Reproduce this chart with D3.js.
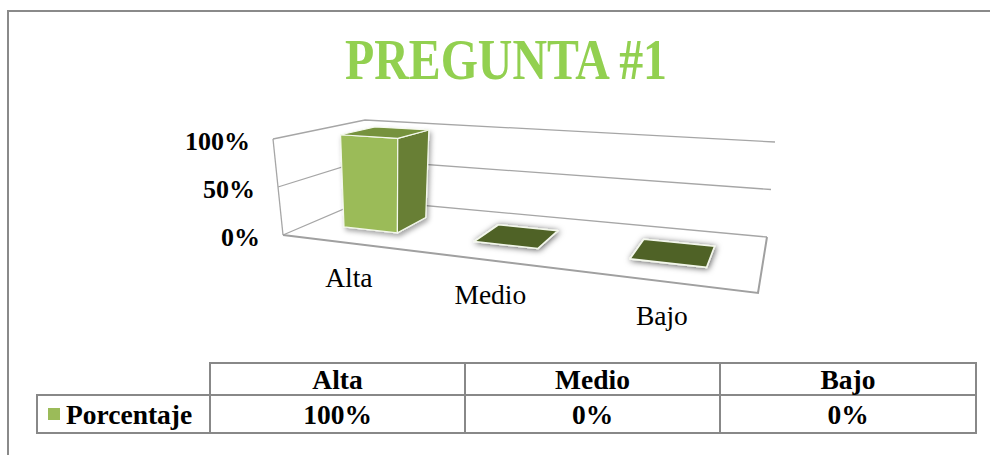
<!DOCTYPE html>
<html><head><meta charset="utf-8">
<script src="https://cdn.jsdelivr.net/npm/d3@7"></script>
<style>html,body{margin:0;padding:0;background:#fff;overflow:hidden;} svg{display:block;}</style>
</head><body>
<script>
// ---- data ----
const chartTitle = "PREGUNTA #1";
const categories = ["Alta", "Medio", "Bajo"];
const seriesName = "Porcentaje";
const values = [1.0, 0, 0];
const yTicks = [0, 0.5, 1];

// ---- setup ----
const W = 990, H = 455;
const svg = d3.select("body").append("svg").attr("width", W).attr("height", H);
const serif = "'Liberation Serif','Times New Roman',serif";
const fmt = d3.format(".0%");

const defs = svg.append("defs");
const sh = defs.append("filter").attr("id", "barShadow").attr("x", "-30%").attr("y", "-30%").attr("width", "160%").attr("height", "160%");
sh.append("feDropShadow").attr("dx", 2).attr("dy", 3).attr("stdDeviation", 2.5).attr("flood-color", "#000").attr("flood-opacity", 0.35);
const gl = defs.append("filter").attr("id", "flatShadow").attr("x", "-30%").attr("y", "-60%").attr("width", "160%").attr("height", "220%");
gl.append("feDropShadow").attr("dx", 1).attr("dy", 1).attr("stdDeviation", 3).attr("flood-color", "#000").attr("flood-opacity", 0.65);

// outer frame
svg.append("rect").attr("x", 8).attr("y", 11).attr("width", 1000).attr("height", 500)
  .attr("fill", "none").attr("stroke", "#8a8a8a").attr("stroke-width", 2);

// title
svg.append("text").attr("x", 506).attr("y", 79).attr("text-anchor", "middle")
  .attr("font-family", serif).attr("font-weight", "bold").attr("font-size", 56)
  .attr("fill", "#92D050").attr("textLength", 322).attr("lengthAdjust", "spacingAndGlyphs")
  .text(chartTitle);

// ---- 3D projection (perspective via homographies of the floor and ceiling planes) ----
function squareToQuad(q) {
  const [p0, p1, p2, p3] = q; // (0,0),(1,0),(1,1),(0,1)
  const dx1 = p1[0] - p2[0], dx2 = p3[0] - p2[0], dx3 = p0[0] - p1[0] + p2[0] - p3[0];
  const dy1 = p1[1] - p2[1], dy2 = p3[1] - p2[1], dy3 = p0[1] - p1[1] + p2[1] - p3[1];
  const den = dx1 * dy2 - dx2 * dy1;
  const g = (dx3 * dy2 - dx2 * dy3) / den;
  const h = (dx1 * dy3 - dx3 * dy1) / den;
  const a = p1[0] - p0[0] + g * p1[0], b = p3[0] - p0[0] + h * p3[0], c = p0[0];
  const d = p1[1] - p0[1] + g * p1[1], e = p3[1] - p0[1] + h * p3[1], f = p0[1];
  return (u, w) => {
    const z = g * u + h * w + 1;
    return [(a * u + b * w + c) / z, (d * u + e * w + f) / z];
  };
}
const floorH = squareToQuad([[283, 235], [758, 293], [767, 237], [365, 200]]);
const topH = squareToQuad([[273, 139], [768, 172], [775, 142], [365, 120]]);
function P(u, v, w) {
  const a = floorH(u, w), b = topH(u, w);
  return [a[0] + (b[0] - a[0]) * v, a[1] + (b[1] - a[1]) * v];
}

const x = d3.scaleBand().domain(categories).range([0, 1]).paddingInner(0.57).paddingOuter(0.285);
const y = d3.scaleLinear().domain([0, 1]).range([0, 1]);
const wFront = 0.3, wBack = 0.7;
const line = d3.line();

const grid = svg.append("g").attr("fill", "none").attr("stroke", "#a6a6a6").attr("stroke-width", 1.3);
// back wall + left wall gridlines
yTicks.forEach(t => {
  const v = y(t);
  grid.append("path").attr("d", line([P(0, v, 0), P(0, v, 1), P(1, v, 1)]));
});
// left wall front edge
grid.append("path").attr("d", line([P(0, y(0), 0), P(0, y(1), 0)]));
// floor front and right edges
svg.append("path").attr("fill", "none").attr("stroke", "#a0a0a0").attr("stroke-width", 2)
  .attr("d", line([P(0, 0, 0), P(1, 0, 0), P(1, 0, 1)]));

// y-axis labels
yTicks.forEach(t => {
  const p = P(0, y(t), 0);
  svg.append("text").attr("x", p[0] - 23).attr("y", p[1] + 11).attr("text-anchor", "end")
    .attr("font-family", serif).attr("font-weight", "bold").attr("font-size", 26).attr("fill", "#000")
    .text(fmt(t));
});

// bars
categories.forEach((c, i) => {
  const u0 = x(c), u1 = u0 + x.bandwidth();
  const v0 = y(0), v1 = y(values[i]);
  const flat = v1 === v0;
  const g = svg.append("g").attr("filter", flat ? "url(#flatShadow)" : "url(#barShadow)")
    .attr("stroke", "#f4f8ec").attr("stroke-width", flat ? 1.6 : 1.2).attr("stroke-linejoin", "round");
  if (!flat) {
    g.append("path").attr("fill", "#9BBB59")
      .attr("d", line([P(u0, v0, wFront), P(u1, v0, wFront), P(u1, v1, wFront), P(u0, v1, wFront)]) + "Z");
    g.append("path").attr("fill", "#677F35")
      .attr("d", line([P(u1, v0, wFront), P(u1, v0, wBack), P(u1, v1, wBack), P(u1, v1, wFront)]) + "Z");
  }
  g.append("path").attr("fill", flat ? "#4F6228" : "#76923C")
    .attr("d", line([P(u0, v1, wFront), P(u1, v1, wFront), P(u1, v1, wBack), P(u0, v1, wBack)]) + "Z");

  const lp = P(u0 + x.bandwidth() / 2, 0, 0);
  svg.append("text").attr("x", lp[0] + 4).attr("y", lp[1] + 44).attr("text-anchor", "middle")
    .attr("font-family", serif).attr("font-size", 27.5).attr("fill", "#000").text(c);
});

// ---- data table ----
const colX = [37, 210, 465, 720, 976];
const rowY = [363, 395, 433];
const tbl = svg.append("g");
const tl = tbl.append("g").attr("stroke", "#888").attr("stroke-width", 2).attr("fill", "none");
tl.append("rect").attr("x", colX[1]).attr("y", rowY[0]).attr("width", colX[4] - colX[1]).attr("height", rowY[2] - rowY[0]);
tl.append("rect").attr("x", colX[0]).attr("y", rowY[1]).attr("width", colX[1] - colX[0]).attr("height", rowY[2] - rowY[1]);
tl.append("line").attr("x1", colX[1]).attr("x2", colX[4]).attr("y1", rowY[1]).attr("y2", rowY[1]);
[2, 3].forEach(k => tl.append("line").attr("x1", colX[k]).attr("x2", colX[k]).attr("y1", rowY[0]).attr("y2", rowY[2]));

const tfont = t => t.attr("font-family", serif).attr("font-weight", "bold").attr("font-size", 27.5).attr("fill", "#000");
categories.forEach((c, i) => {
  const cx = (colX[i + 1] + colX[i + 2]) / 2;
  tbl.append("text").attr("x", cx).attr("y", (rowY[0] + rowY[1]) / 2 + 9.5).attr("text-anchor", "middle").call(tfont).text(c);
  tbl.append("text").attr("x", cx).attr("y", (rowY[1] + rowY[2]) / 2 + 9.5).attr("text-anchor", "middle").call(tfont).text(fmt(values[i]));
});
tbl.append("rect").attr("x", 48).attr("y", 408).attr("width", 12).attr("height", 12).attr("fill", "#9BBB59");
tbl.append("text").attr("x", 66).attr("y", (rowY[1] + rowY[2]) / 2 + 9.5).call(tfont).text(seriesName);
</script>
</body></html>
